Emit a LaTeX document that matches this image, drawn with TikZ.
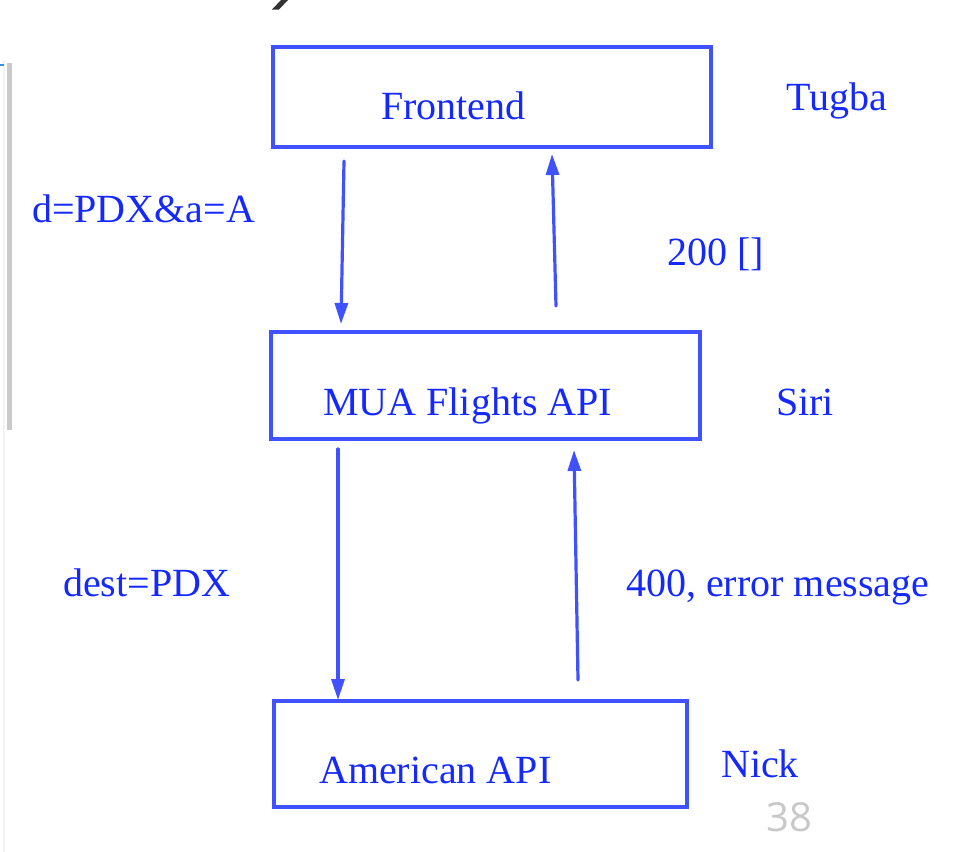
\documentclass[tikz,border=0pt]{standalone}
\usepackage{fontspec}
\setmainfont{Liberation Serif}
\newfontfamily\pagenumfont{Open Sans}
\usetikzlibrary{arrows.meta}
\definecolor{boxblue}{RGB}{64,82,255}
\definecolor{txtblue}{RGB}{20,40,255}
\definecolor{pagegray}{RGB}{200,200,200}
\definecolor{bargray}{RGB}{202,202,202}
\definecolor{edgegray}{RGB}{242,242,242}
\definecolor{tickblue}{RGB}{60,140,230}
\tikzset{
  box/.style={draw=boxblue, line width=4pt, inner sep=0pt, fill=none},
  lbl/.style={anchor=base west, inner sep=0pt, text=txtblue, font=\fontsize{40}{40}\selectfont},
  flow/.style={draw=boxblue, line width=3.2pt, line cap=round, -{Triangle[length=21pt,width=13pt]}},
}
\begin{document}
\begin{tikzpicture}[x=1pt,y=-1pt]
\useasboundingbox (0,0) rectangle (962,852);
% slide edge decorations
\fill[edgegray] (3,60) rectangle (5,852);
\fill[bargray] (7,63) rectangle (12,430);
\draw[tickblue, line width=1.5pt] (0,65) -- (4,65);
% cut-off title glyph
\fill[black!80] (281,0) -- (288,0) -- (279,9.5) -- (272,9.5) -- cycle;

% boxes
\node[box, minimum width=438pt, minimum height=100pt] (fe) at (492,97) {};
\node[box, minimum width=429pt, minimum height=107pt] (mua) at (485.5,385.5) {};
\node[box, minimum width=413pt, minimum height=106pt] (aa) at (480.5,754) {};

% box labels
\node[lbl] (fet) at (381,119) {Frontend};
\node[lbl] (muat) at (323,415) {MUA Flights API};
\node[lbl] (aat) at (319,783) {American API};

% people
\node[lbl] (tugba) at (786,110) {Tugba};
\node[lbl] (siri) at (776,415) {Siri};
\node[lbl] (nick) at (721,777) {Nick};

% messages
\node[lbl] (req1) at (32,222) {d=PDX\&a=A};
\node[lbl] (resp1) at (667,265) {200 []};
\node[lbl] (req2) at (63,596) {dest=PDX};
\node[lbl] (resp2) at (626,596) {400, error message};

% arrow endpoints
\coordinate (d1s) at (344,161);
\coordinate (d1e) at (341,324);
\coordinate (u1s) at (556,306);
\coordinate (u1e) at (552,154);
\coordinate (d2s) at (338,449);
\coordinate (d2e) at (338,700);
\coordinate (u2s) at (578,680);
\coordinate (u2e) at (574,450);

\draw[flow] (d1s) -- (d1e);
\draw[flow] (u1s) -- (u1e);
\draw[flow] (d2s) -- (d2e);
\draw[flow] (u2s) -- (u2e);

% page number
\node[anchor=base west, inner sep=0pt, text=pagegray, font=\pagenumfont\fontsize{40}{40}\selectfont] (pnum) at (766,831) {38};
\end{tikzpicture}
\end{document}
